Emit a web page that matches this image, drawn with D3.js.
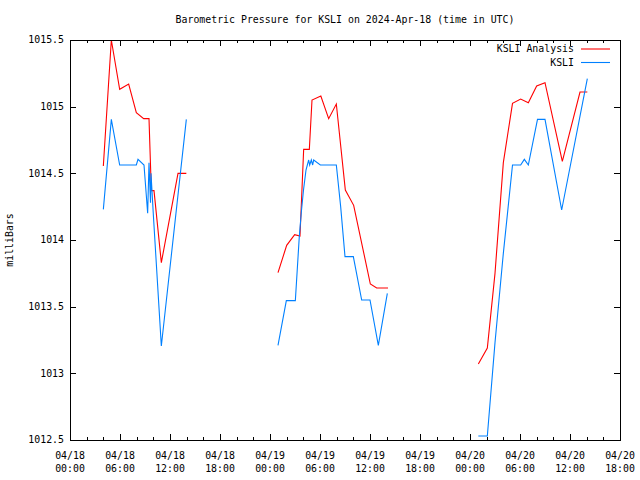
<!DOCTYPE html>
<html><head><meta charset="utf-8">
<script src="https://cdn.jsdelivr.net/npm/d3@7"></script>
<style>
body{margin:0;background:#fff;}
text{font-family:"DejaVu Sans Mono","Liberation Mono",monospace;font-size:9.9px;fill:#000;}
</style></head><body>
<svg id="chart" width="640" height="480"></svg>
<script>
// hours after 2024-04-18 00:00 UTC; null = gap
const analysisHours = [4.0,4.96,5.96,7.04,7.96,8.84,9.48,9.76,10.08,10.96,12.96,13.96,null,
  24.96,26.0,26.96,27.6,28.04,28.72,29.04,30.1,31.04,31.96,33.04,34.04,36.04,36.8,38.16,null,
  49,50.08,51,52,53.1,54.08,55,56,57,59.08,61.2,62.08];
const analysisValues = [1014.555,1015.5,1015.13,1015.17,1014.955,1014.91,1014.91,1014.37,1014.37,1013.83,1014.5,1014.5,null,
  1013.755,1013.96,1014.04,1014.03,1014.68,1014.68,1015.05,1015.08,1014.91,1015.02,1014.375,1014.26,1013.67,1013.64,1013.64,null,
  1013.07,1013.19,1013.75,1014.58,1015.025,1015.057,1015.03,1015.155,1015.18,1014.59,1015.11,1015.11];
const ksliHours = [4.0,4.96,5.96,7.96,8.16,8.88,9.32,9.48,9.66,9.72,9.99,10.96,13.96,null,
  24.96,25.96,27.04,27.52,27.76,28.02,28.32,28.64,28.76,28.96,29.12,29.24,30.04,31.96,32.48,33.0,34.0,35.0,36.0,37.0,38.08,null,
  49,50.08,51,52,53.1,54.08,54.52,55,56.1,57,59,62.08];
const ksliValues = [1014.23,1014.905,1014.5625,1014.5625,1014.605,1014.5625,1014.2,1014.58,1014.28,1014.5,1014.2,1013.205,1014.905,null,
  1013.21,1013.545,1013.545,1014.03,1014.21,1014.375,1014.525,1014.6,1014.5625,1014.6,1014.5625,1014.6,1014.5625,1014.5625,1014.25,1013.875,1013.875,1013.55,1013.55,1013.21,1013.6,null,
  1012.53,1012.53,1013.23,1013.9,1014.5625,1014.5625,1014.605,1014.5625,1014.905,1014.905,1014.225,1015.21];
const yTicks = [1012.5,1013,1013.5,1014,1014.5,1015,1015.5];
const yTickLabels = ["1012.5","1013","1013.5","1014","1014.5","1015","1015.5"];
const xTickLabelsTop = ["04/18","04/18","04/18","04/18","04/19","04/19","04/19","04/19","04/20","04/20","04/20","04/20"];
const xTickLabelsBottom = ["00:00","06:00","12:00","18:00","00:00","06:00","12:00","18:00","00:00","06:00","12:00","18:00"];
const seriesNames = ["KSLI Analysis","KSLI"];
const seriesColors = ["#ff0000","#0080ff"];
const title = "Barometric Pressure for KSLI on 2024-Apr-18 (time in UTC)";
const yTitle = "milliBars";

const base = Date.UTC(2024,3,18,0,0);
const toDate = h => h === null ? null : new Date(base + h*3600e3);

const L=70,R=620,T=40,B=440;
const svg = d3.select("#chart");
const x = d3.scaleUtc().domain([toDate(0), toDate(66)]).range([L,R]);
const y = d3.scaleLinear().domain([1012.5,1015.5]).range([B,T]);

// ticks
const major = d3.range(0,67,6).map(toDate);
const minor = d3.range(0,67,2).filter(h=>h%6!==0).map(toDate);
const g = svg.append("g").attr("stroke","#000").attr("stroke-width",1).attr("shape-rendering","crispEdges");
major.forEach(d=>{const px=Math.round(x(d))+0.5;
  g.append("line").attr("x1",px).attr("x2",px).attr("y1",B).attr("y2",B-6);
  g.append("line").attr("x1",px).attr("x2",px).attr("y1",T).attr("y2",T+6);});
minor.forEach(d=>{const px=Math.round(x(d))+0.5;
  g.append("line").attr("x1",px).attr("x2",px).attr("y1",B).attr("y2",B-3);
  g.append("line").attr("x1",px).attr("x2",px).attr("y1",T).attr("y2",T+3);});
yTicks.forEach(v=>{const py=Math.round(y(v))+0.5;
  g.append("line").attr("x1",L).attr("x2",L+6).attr("y1",py).attr("y2",py);
  g.append("line").attr("x1",R).attr("x2",R-6).attr("y1",py).attr("y2",py);});

// tick labels
yTicks.forEach((v,i)=>{
  svg.append("text").attr("x",64).attr("y",y(v)).attr("dy","0.35em").attr("text-anchor","end").text(yTickLabels[i]);});
major.forEach((d,i)=>{
  svg.append("text").attr("x",x(d)).attr("y",459).attr("text-anchor","middle").text(xTickLabelsTop[i]);
  svg.append("text").attr("x",x(d)).attr("y",472).attr("text-anchor","middle").text(xTickLabelsBottom[i]);});

// lines
const line = d3.line().defined(d=>d[0]!==null).x(d=>x(d[0])).y(d=>y(d[1]));
const s1 = analysisHours.map((h,i)=>[toDate(h),analysisValues[i]]);
const s2 = ksliHours.map((h,i)=>[toDate(h),ksliValues[i]]);
[s1,s2].forEach((s,i)=>{
  svg.append("path").datum(s).attr("d",line).attr("fill","none").attr("stroke",seriesColors[i]).attr("stroke-width",1.1);});

// border
svg.append("rect").attr("x",L+0.5).attr("y",T+0.5).attr("width",R-L).attr("height",B-T)
  .attr("fill","none").attr("stroke","#000").attr("stroke-width",1).attr("shape-rendering","crispEdges");

// legend
seriesNames.forEach((n,i)=>{
  const ly = 49 + i*13.5;
  svg.append("text").attr("x",574).attr("y",ly).attr("dy","0.35em").attr("text-anchor","end").text(n);
  svg.append("line").attr("x1",581).attr("x2",610).attr("y1",ly).attr("y2",ly).attr("stroke",seriesColors[i]).attr("stroke-width",1.1);});

// titles
svg.append("text").attr("x",345).attr("y",23).attr("text-anchor","middle").text(title);
svg.append("text").attr("transform","translate(13,240) rotate(-90)").attr("text-anchor","middle").text(yTitle);
</script>
</body></html>
